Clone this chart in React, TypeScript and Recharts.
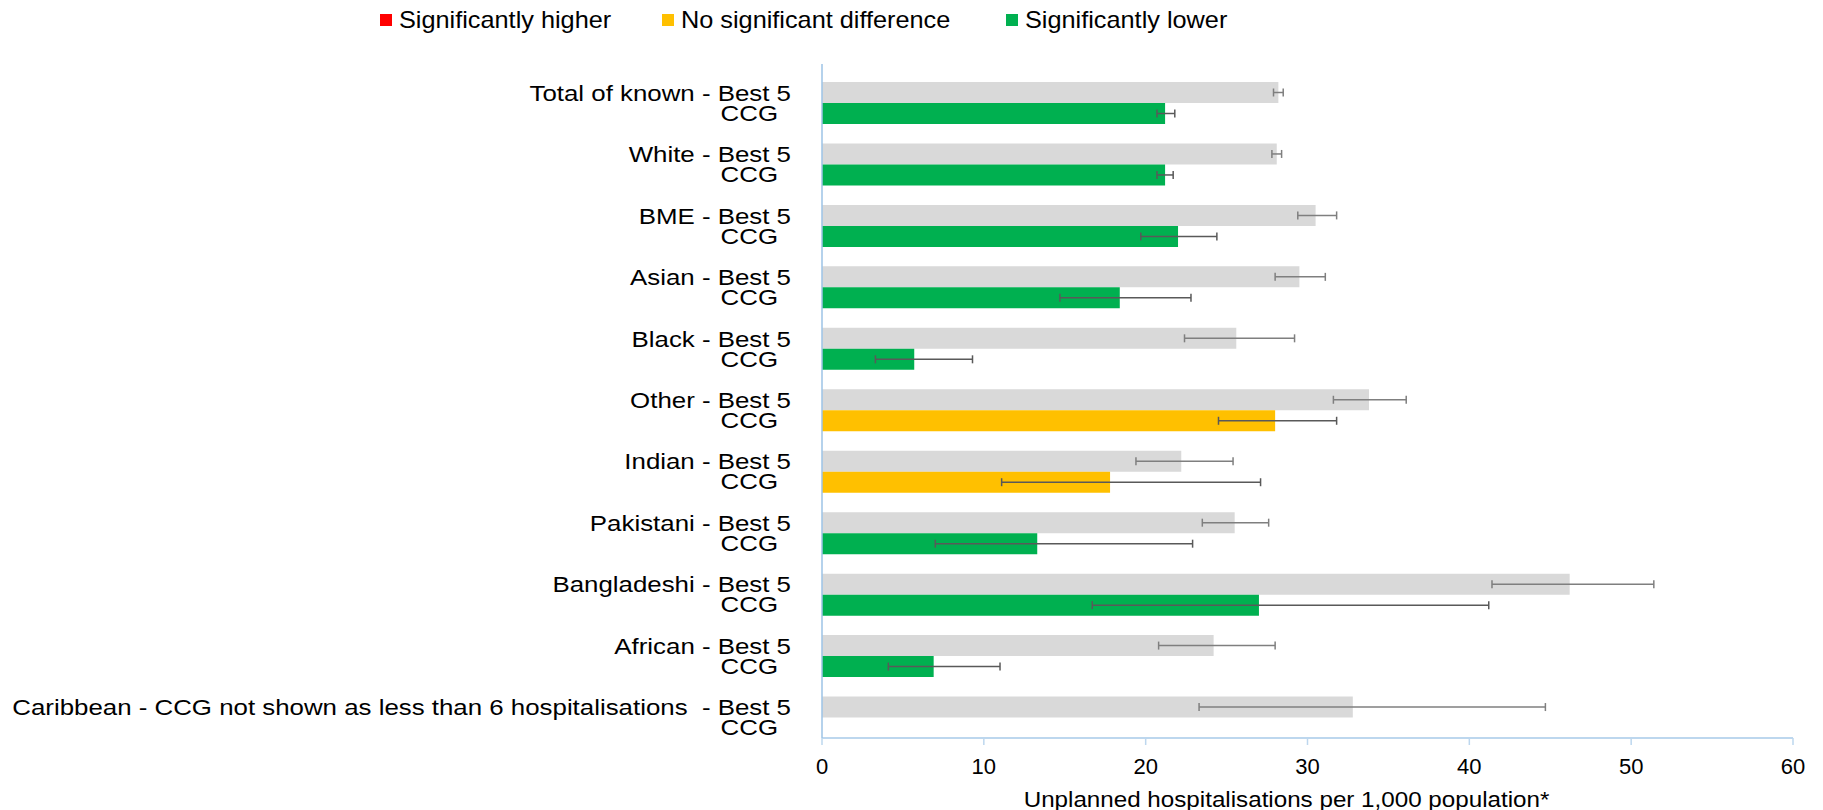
import React from 'react';
import { BarChart, Bar, XAxis, YAxis, ErrorBar, Cell, Label } from 'recharts';

const groups = [
  'Total of known',
  'White',
  'BME',
  'Asian',
  'Black',
  'Other',
  'Indian',
  'Pakistani',
  'Bangladeshi',
  'African',
  'Caribbean - CCG not shown as less than 6 hospitalisations ',
];

const best5 = [28.2, 28.1, 30.5, 29.5, 25.6, 33.8, 22.2, 25.5, 46.2, 24.2, 32.8];
const best5Lo = [27.9, 27.8, 29.4, 28.0, 22.4, 31.6, 19.4, 23.5, 41.4, 20.8, 23.3];
const best5Hi = [28.5, 28.4, 31.8, 31.1, 29.2, 36.1, 25.4, 27.6, 51.4, 28.0, 44.7];

const ccg = [21.2, 21.2, 22.0, 18.4, 5.7, 28.0, 17.8, 13.3, 27.0, 6.9, null];
const ccgLo = [20.7, 20.7, 19.7, 14.7, 3.3, 24.5, 11.1, 7.0, 16.7, 4.1, null];
const ccgHi = [21.8, 21.7, 24.4, 22.8, 9.3, 31.8, 27.1, 22.9, 41.2, 11.0, null];
const ccgSignificance = ['lower', 'lower', 'lower', 'lower', 'lower', 'none', 'none', 'lower', 'lower', 'lower', null];

const xTicks = [0, 10, 20, 30, 40, 50, 60];

const legendItems = [
  { key: 'higher', label: 'Significantly higher', color: '#ff0000', x: 380 },
  { key: 'none', label: 'No significant difference', color: '#ffc000', x: 662 },
  { key: 'lower', label: 'Significantly lower', color: '#00b050', x: 1006 },
];

const sigColor: Record<string, string> = {
  higher: '#ff0000',
  none: '#ffc000',
  lower: '#00b050',
};

const data = groups.map((name, i) => ({
  name,
  best5: best5[i],
  best5Err: [best5[i] - best5Lo[i], best5Hi[i] - best5[i]],
  ccg: ccg[i],
  ccgErr: ccg[i] == null ? null : [(ccg[i] as number) - (ccgLo[i] as number), (ccgHi[i] as number) - (ccg[i] as number)],
  sig: ccgSignificance[i],
}));

const FONT = '"Liberation Sans", Arial, sans-serif';
const STRETCH = 1.175;

// two-line category label: "<group> - Best 5" over "CCG"
const CategoryTick = ({ x, y, payload }: any) => (
  <g transform={`translate(${x},${y}) scale(${STRETCH},1)`}>
    <text x={0} y={-2} textAnchor="end" fontSize={22} fontFamily={FONT} fill="#000" style={{ whiteSpace: 'pre' }}>
      {`${payload.value} - Best 5`}
    </text>
    <text x={-13 / STRETCH} y={18} textAnchor="end" fontSize={22} fontFamily={FONT} fill="#000">
      CCG
    </text>
  </g>
);

const AxisTitle = ({ viewBox }: any) => (
  <g transform={`translate(${viewBox.x + viewBox.width / 2 - 21},${viewBox.y + viewBox.height - 3.5}) scale(1.1,1)`}>
    <text x={0} y={0} textAnchor="middle" fontSize={22} fontFamily={FONT} fill="#000">
      Unplanned hospitalisations per 1,000 population*
    </text>
  </g>
);

export default function App() {
  return (
    <div style={{ position: 'absolute', left: 0, top: 0, width: 1823, height: 810, background: '#fff' }}>
      <svg width={1823} height={40} style={{ position: 'absolute', left: 0, top: 0 }}>
        {legendItems.map((item) => (
          <g key={item.key}>
            <rect x={item.x} y={14} width={12} height={12} fill={item.color} />
            <g transform={`translate(${item.x + 19},28) scale(1.1,1)`}>
              <text x={0} y={0} fontSize={23} fontFamily={FONT} fill="#000">
                {item.label}
              </text>
            </g>
          </g>
        ))}
      </svg>
      <div style={{ position: 'absolute', left: 0, top: 0 }}>
        <BarChart
          width={1823}
          height={810}
          data={data}
          layout="vertical"
          margin={{ top: 64, right: 30, bottom: 0, left: 22 }}
          barGap={0}
          barCategoryGap={10}
        >
          <XAxis
            type="number"
            domain={[0, 60]}
            ticks={xTicks}
            height={72}
            axisLine={{ stroke: '#bdd7ee', strokeWidth: 2 }}
            tickLine={{ stroke: '#bdd7ee', strokeWidth: 1.5 }}
            tickSize={7}
            tickMargin={13}
            tick={{ fontSize: 22, fontFamily: FONT, fill: '#000' }}
          >
            <Label content={<AxisTitle />} />
          </XAxis>
          <YAxis
            type="category"
            dataKey="name"
            width={800}
            interval={0}
            padding={{ top: 8, bottom: -10 }}
            axisLine={{ stroke: '#9dc3e6', strokeWidth: 1.5 }}
            tickLine={false}
            tickSize={0}
            tickMargin={31}
            tick={<CategoryTick />}
          />
          <Bar dataKey="best5" fill="#d9d9d9" isAnimationActive={false}>
            <ErrorBar dataKey="best5Err" direction="x" width={4} stroke="#7f7f7f" strokeWidth={1.5} isAnimationActive={false} />
          </Bar>
          <Bar dataKey="ccg" isAnimationActive={false}>
            {data.map((d, i) => (
              <Cell key={`ccg-${i}`} fill={d.sig ? sigColor[d.sig] : 'transparent'} />
            ))}
            <ErrorBar dataKey="ccgErr" direction="x" width={4} stroke="#595959" strokeWidth={1.5} isAnimationActive={false} />
          </Bar>
        </BarChart>
      </div>
    </div>
  );
}
